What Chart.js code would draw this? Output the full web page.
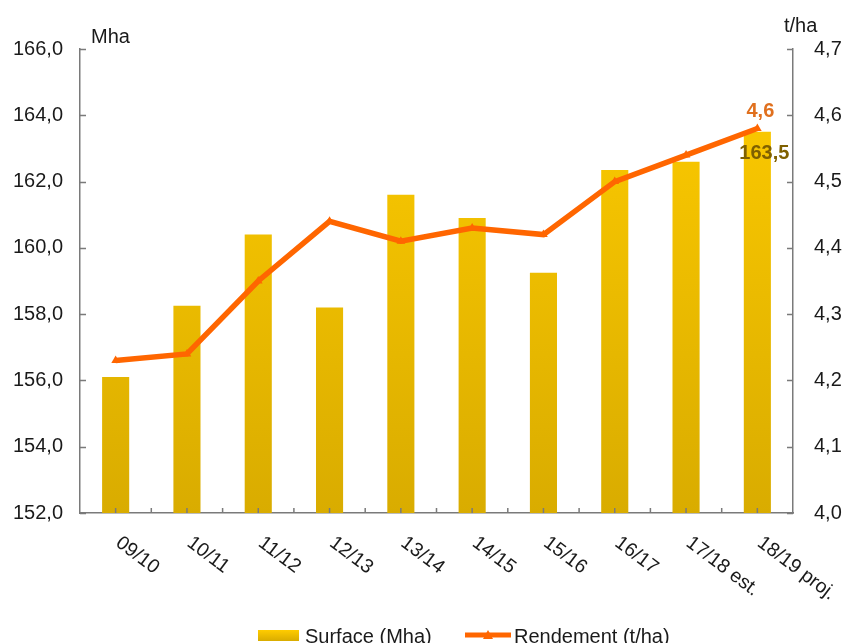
<!DOCTYPE html>
<html><head><meta charset="utf-8">
<script src="https://cdn.jsdelivr.net/npm/chart.js@4.4.1/dist/chart.umd.min.js"></script>
<style>html,body{margin:0;padding:0;background:#fff;overflow:hidden}#wrap{width:846px;height:643px;position:relative}</style>
</head><body><div id="wrap"><canvas id="c" width="846" height="643"></canvas></div>
<script>
const categories = ['09/10','10/11','11/12','12/13','13/14','14/15','15/16','16/17','17/18 est.','18/19 proj.'];
const surface = [156.1, 158.25, 160.4, 158.2, 161.6, 160.9, 159.25, 162.35, 162.6, 163.5];
const rendement = [4.23, 4.24, 4.35, 4.44, 4.41, 4.43, 4.42, 4.50, 4.54, 4.58];
const leftTicks = [152, 154, 156, 158, 160, 162, 164, 166];
const rightTicks = [4.0, 4.1, 4.2, 4.3, 4.4, 4.5, 4.6, 4.7];
const labelSurface = '163,5';
const labelRendement = '4,6';

const FONT = '"Liberation Sans", Arial, sans-serif';
const AXIS = '#7a7a7a';
const TXT = '#1a1a1a';
const LINE = '#FF6600';

function barGradient(ctx, top, bottom) {
  const g = ctx.createLinearGradient(0, top, 0, bottom);
  g.addColorStop(0, '#FFCC00');
  g.addColorStop(1, '#D9AC00');
  return g;
}

const fmt = v => Number(v).toFixed(1).replace('.', ',');

const extras = {
  id: 'extras',
  afterDraw(chart) {
    const ctx = chart.ctx;
    const {x, y, y1} = chart.scales;
    const area = chart.chartArea;
    ctx.save();
    // inward tick marks
    ctx.strokeStyle = AXIS;
    ctx.lineWidth = 1.5;
    ctx.beginPath();
    leftTicks.forEach(v => { const p = Math.round(y.getPixelForValue(v)) + 0.5; ctx.moveTo(area.left, p); ctx.lineTo(area.left + 6, p); });
    rightTicks.forEach(v => { const p = Math.round(y1.getPixelForValue(v)) + 0.5; ctx.moveTo(area.right, p); ctx.lineTo(area.right - 6, p); });
    const half = (x.getPixelForValue(1) - x.getPixelForValue(0)) / 2;
    categories.forEach((c, i) => {
      const cx = x.getPixelForValue(i);
      ctx.moveTo(cx, area.bottom); ctx.lineTo(cx, area.bottom - 5);
      const bx = cx + half;
      if (i < categories.length - 1) { ctx.moveTo(bx, area.bottom); ctx.lineTo(bx, area.bottom - 5); }
    });
    ctx.stroke();

    // category labels, rotated
    ctx.fillStyle = TXT;
    ctx.font = '19.5px ' + FONT;
    ctx.textAlign = 'left';
    ctx.textBaseline = 'alphabetic';
    const ang = 37 * Math.PI / 180;
    categories.forEach((c, i) => {
      const cx = x.getPixelForValue(i);
      ctx.save();
      ctx.translate(cx - 1, area.bottom + 32);
      ctx.rotate(ang);
      ctx.fillText(c, 0, 0);
      ctx.restore();
    });

    // axis titles
    ctx.font = '20px ' + FONT;
    ctx.fillText('Mha', 91, 43);
    ctx.fillText('t/ha', 784, 32);

    // data labels
    const barMeta = chart.getDatasetMeta(0);
    const lineMeta = chart.getDatasetMeta(1);
    const last = categories.length - 1;
    ctx.font = 'bold 20px ' + FONT;
    ctx.textAlign = 'center';
    ctx.textBaseline = 'middle';
    ctx.fillStyle = '#7F6000';
    ctx.fillText(labelSurface, barMeta.data[last].x + 7, barMeta.data[last].y + 22);
    ctx.fillStyle = '#E0701E';
    ctx.fillText(labelRendement, lineMeta.data[last].x + 3, lineMeta.data[last].y - 17);

    // legend
    ctx.fillStyle = barGradient(ctx, 630, 641);
    ctx.fillRect(258, 630, 41, 11);
    ctx.fillStyle = TXT;
    ctx.font = '20px ' + FONT;
    ctx.textAlign = 'left';
    ctx.textBaseline = 'alphabetic';
    ctx.fillText('Surface (Mha)', 305, 643);
    ctx.strokeStyle = LINE;
    ctx.lineWidth = 5;
    ctx.beginPath(); ctx.moveTo(465, 635); ctx.lineTo(511, 635); ctx.stroke();
    ctx.fillStyle = LINE;
    ctx.beginPath(); ctx.moveTo(488, 630); ctx.lineTo(493, 639); ctx.lineTo(483, 639); ctx.closePath(); ctx.fill();
    ctx.fillStyle = TXT;
    ctx.fillText('Rendement (t/ha)', 514, 643);
    ctx.restore();
  }
};

new Chart(document.getElementById('c'), {
  data: {
    labels: categories,
    datasets: [
      {
        type: 'bar',
        label: 'Surface (Mha)',
        data: surface,
        yAxisID: 'y',
        order: 1,
        categoryPercentage: 1,
        barPercentage: 0.38,
        borderWidth: 0,
        backgroundColor: (c) => {
          const a = c.chart.chartArea;
          if (!a) return '#F0C000';
          return barGradient(c.chart.ctx, a.top, a.bottom);
        }
      },
      {
        type: 'line',
        label: 'Rendement (t/ha)',
        data: rendement,
        yAxisID: 'y1',
        order: 0,
        borderColor: LINE,
        backgroundColor: LINE,
        borderWidth: 5.5,
        tension: 0,
        pointStyle: 'triangle',
        pointRadius: 5,
        pointBorderWidth: 0,
        pointBackgroundColor: LINE
      }
    ]
  },
  options: {
    responsive: false,
    animation: false,
    layout: { padding: { top: 49, left: 0, right: 0, bottom: 0 } },
    plugins: { legend: { display: false }, tooltip: { enabled: false } },
    scales: {
      x: {
        type: 'category',
        offset: true,
        grid: { display: false, drawTicks: false },
        border: { display: true, color: AXIS, width: 1.5 },
        ticks: { display: false },
        afterFit: s => { s.height = 130; }
      },
      y: {
        position: 'left',
        min: 152, max: 166,
        grid: { display: false, drawTicks: false },
        border: { display: true, color: AXIS, width: 1.5 },
        afterBuildTicks: s => { s.ticks = leftTicks.map(v => ({ value: v })); },
        ticks: { callback: v => fmt(v), font: { size: 20, family: FONT }, color: TXT, padding: 17 },
        afterFit: s => { s.width = 80; }
      },
      y1: {
        position: 'right',
        min: 4.0, max: 4.7,
        grid: { display: false, drawTicks: false },
        border: { display: true, color: AXIS, width: 1.5 },
        afterBuildTicks: s => { s.ticks = rightTicks.map(v => ({ value: v })); },
        ticks: { callback: v => fmt(v), font: { size: 20, family: FONT }, color: TXT, padding: 21 },
        afterFit: s => { s.width = 53; }
      }
    }
  },
  plugins: [extras]
});
</script>
</body></html>
